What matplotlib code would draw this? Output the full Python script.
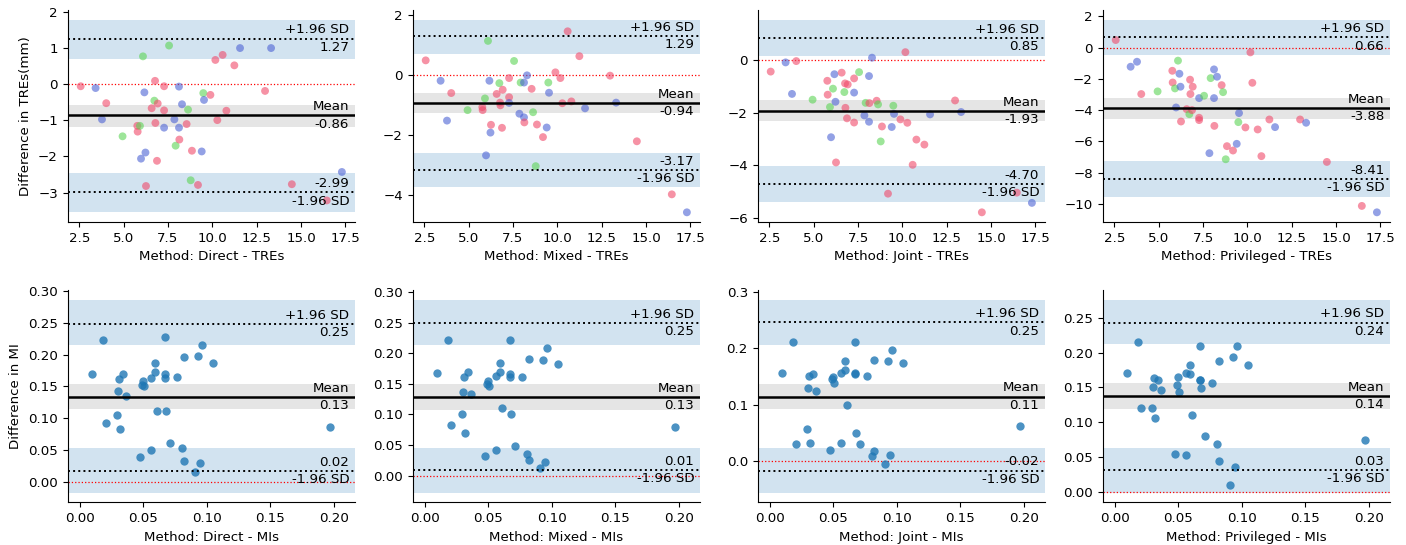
import matplotlib

matplotlib.use("Agg")
import matplotlib.pyplot as plt
import matplotlib.transforms as transforms
from matplotlib.ticker import MultipleLocator

plt.rcParams["font.size"] = 9.6

methods = ["Direct", "Mixed", "Joint", "Privileged"]

# ---- TRE row: x = mean TRE, shared by the four panels ----
tre_x = [2.58, 3.42, 3.78, 4.02, 4.94, 5.77, 5.79, 5.92, 5.98, 6.09, 6.17, 6.23, 6.26,
         6.58, 6.73, 6.77, 6.79, 6.88, 6.92, 7.28, 7.28, 7.28, 7.56, 7.86, 7.93, 8.12,
         8.12, 8.14, 8.29, 8.55, 8.63, 8.78, 8.85, 9.19, 9.40, 9.49, 9.53, 9.89, 10.17,
         10.28, 10.58, 10.79, 11.24, 11.56, 12.97, 13.31, 14.48, 16.45, 17.30]
# 0 = pink, 1 = blue, 2 = green
tre_group = [0, 1, 1, 0, 2, 0, 0, 2, 1, 2, 1, 1, 0,
             0, 2, 0, 0, 0, 0, 0, 0, 1, 2, 1, 2, 1,
             1, 0, 1, 0, 2, 2, 0, 0, 1, 2, 1, 0, 0,
             0, 0, 0, 0, 1, 0, 1, 0, 0, 1]
tre_direct = [-0.05, -0.10, -0.97, -0.52, -1.44, -1.15, -1.31, -1.15, -2.06, 0.78, -0.22, -1.89, -2.82,
              -0.66, -0.45, 0.10, -1.07, -2.12, -0.53, -0.05, -0.72, -1.20, 1.08, -0.97, -1.70, -0.06,
              -1.20, -1.53, -0.55, -1.10, -0.70, -2.66, -1.84, -2.79, -1.86, -0.24, -0.43, -0.29, 0.68,
              -0.99, 0.82, -0.73, 0.53, 1.01, -0.18, 1.01, -2.77, -3.22, -2.43]
tre_mixed = [0.48, -0.20, -1.53, -0.61, -1.18, -1.08, -1.18, -0.79, -2.69, 1.13, -0.20, -1.93, -1.67,
             -0.64, -0.28, -0.93, -1.02, -1.77, -0.50, -0.11, -0.75, -0.94, 0.46, -1.30, -0.26, -0.26,
             -1.42, -1.59, -0.02, -0.47, -1.25, -3.05, -1.66, -2.08, -1.76, -0.26, -0.60, 0.08, -0.11,
             -0.95, 1.45, -0.89, 0.62, -1.12, -0.03, -0.93, -2.22, -3.99, -4.59]
tre_joint = [-0.43, -0.08, -1.28, -0.03, -1.50, -0.78, -1.31, -1.78, -2.93, -1.08, -0.53, -1.58, -3.89,
             -0.47, -1.21, -0.88, -1.81, -2.21, -0.92, -0.69, -2.37, -1.23, -0.45, -2.10, -1.62, -0.60,
             -2.34, -1.63, 0.10, -1.54, -1.68, -3.09, -2.52, -5.08, -2.54, -1.73, -2.04, -2.25, 0.31,
             -2.38, -3.98, -3.02, -3.21, -2.06, -1.53, -1.97, -5.79, -5.04, -5.43]
tre_privileged = [0.49, -1.22, -0.90, -2.97, -2.80, -1.48, -2.23, -2.61, -3.83, -0.83, -1.67, -2.50, -4.73,
                  -3.94, -4.26, -2.05, -2.97, -4.00, -2.50, -4.49, -4.64, -3.23, -3.08, -6.76, -1.95, -1.39,
                  -3.23, -5.01, -1.86, -2.40, -2.85, -7.15, -6.31, -6.59, -6.16, -4.77, -4.19, -5.11, -0.30,
                  -2.25, -5.24, -6.95, -4.60, -5.09, -4.60, -4.81, -7.32, -10.14, -10.55]

tre_bias = [-0.862, -0.940, -1.925, -3.875]
tre_upper = [1.268, 1.290, 0.850, 0.660]
tre_lower = [-2.992, -3.170, -4.700, -8.410]
tre_bias_ci = [(-1.17, -0.56), (-1.29, -0.62), (-2.33, -1.53), (-4.54, -3.23)]
tre_upper_ci = [(0.72, 1.80), (0.70, 1.84), (0.15, 1.55), (-0.49, 1.80)]
tre_lower_ci = [(-3.55, -2.47), (-3.75, -2.62), (-5.41, -4.01), (-9.59, -7.27)]
tre_ystep = [1, 2, 2, 2]

# ---- MI row ----
mi_x = [0.0100, 0.0184, 0.0205, 0.0297, 0.0302, 0.0310, 0.0320, 0.0339, 0.0367, 0.0475, 0.0496,
        0.0490, 0.0509, 0.0559, 0.0559, 0.0596, 0.0596, 0.0611, 0.0669, 0.0675, 0.0675, 0.0677,
        0.0714, 0.0769, 0.0806, 0.0824, 0.0824, 0.0906, 0.0929, 0.0947, 0.0963, 0.1050, 0.1970]
mi_direct = [0.169, 0.223, 0.092, 0.105, 0.142, 0.162, 0.083, 0.169, 0.135, 0.039, 0.159,
             0.152, 0.150, 0.051, 0.163, 0.187, 0.172, 0.112, 0.227, 0.169, 0.163, 0.112,
             0.062, 0.164, 0.054, 0.196, 0.033, 0.015, 0.197, 0.030, 0.215, 0.187, 0.086]
mi_mixed = [0.168, 0.222, 0.083, 0.101, 0.136, 0.162, 0.069, 0.169, 0.133, 0.032, 0.154,
            0.150, 0.147, 0.042, 0.163, 0.184, 0.170, 0.110, 0.222, 0.166, 0.161, 0.100,
            0.049, 0.161, 0.036, 0.191, 0.025, 0.013, 0.189, 0.023, 0.209, 0.183, 0.079]
mi_joint = [0.157, 0.211, 0.031, 0.058, 0.129, 0.151, 0.032, 0.155, 0.125, 0.021, 0.150,
            0.145, 0.139, 0.032, 0.157, 0.178, 0.162, 0.099, 0.211, 0.157, 0.154, 0.051,
            0.031, 0.151, 0.010, 0.179, 0.018, -0.004, 0.178, 0.012, 0.197, 0.174, 0.062]
mi_privileged = [0.171, 0.215, 0.121, 0.121, 0.151, 0.163, 0.106, 0.160, 0.146, 0.054, 0.165,
                 0.154, 0.144, 0.053, 0.171, 0.182, 0.169, 0.110, 0.209, 0.161, 0.160, 0.149,
                 0.081, 0.157, 0.069, 0.188, 0.045, 0.010, 0.194, 0.036, 0.209, 0.182, 0.075]

mi_bias = [0.133, 0.129, 0.1147, 0.1375]
mi_upper = [0.248, 0.249, 0.2456, 0.2430]
mi_lower = [0.0177, 0.009, -0.0162, 0.0316]
mi_bias_ci = [(0.114, 0.1545), (0.108, 0.1505), (0.0918, 0.1376), (0.1188, 0.1561)]
mi_upper_ci = [(0.215, 0.2855), (0.2136, 0.287), (0.2059, 0.2853), (0.2117, 0.2754)]
mi_lower_ci = [(-0.0167, 0.0527), (-0.0277, 0.0446), (-0.0553, 0.0229), (-0.001, 0.0637)]
mi_ystep = [0.05, 0.05, 0.1, 0.05]

group_colors = ["#f0496a", "#4c62d4", "#5cd455"]


def bland_altman(ax, x, diff, colors, alpha, size, bias, upper, lower, bias_ci, upper_ci, lower_ci):
    ax.scatter(x, diff, c=colors, alpha=alpha, s=size, linewidths=0, zorder=3)
    ax.axhline(bias, color="black", linestyle="-", lw=1.8, zorder=4)
    ax.axhline(upper, color="black", linestyle=":", lw=1.4, zorder=4)
    ax.axhline(lower, color="black", linestyle=":", lw=1.4, zorder=4)
    ax.axhline(0, color="red", linestyle=":", lw=0.9, zorder=2)
    ax.axhspan(*bias_ci, facecolor="tab:grey", alpha=0.2, lw=0)
    ax.axhspan(*upper_ci, facecolor="tab:blue", alpha=0.2, lw=0)
    ax.axhspan(*lower_ci, facecolor="tab:blue", alpha=0.2, lw=0)

    off = (upper - lower) / 100.0 * 1.5
    trans = transforms.blended_transform_factory(ax.transAxes, ax.transData)
    kw = dict(ha="right", transform=trans, zorder=5)
    ax.text(0.98, bias + off, "Mean", va="bottom", **kw)
    ax.text(0.98, bias - off, "%.2f" % bias, va="top", **kw)
    ax.text(0.98, upper + off, "+1.96 SD", va="bottom", **kw)
    ax.text(0.98, upper - off, "%.2f" % upper, va="top", **kw)
    ax.text(0.98, lower - off, "-1.96 SD", va="top", **kw)
    ax.text(0.98, lower + off, "%.2f" % lower, va="bottom", **kw)
    ax.spines[["top", "right"]].set_visible(False)


fig, axes = plt.subplots(2, 4, figsize=(14.06, 5.45), dpi=100)
fig.subplots_adjust(left=0.0481, right=0.9886, top=0.9817, bottom=0.0783, wspace=0.2008, hspace=0.3226)

tre_rows = [tre_direct, tre_mixed, tre_joint, tre_privileged]
mi_rows = [mi_direct, mi_mixed, mi_joint, mi_privileged]
tre_colors = [group_colors[g] for g in tre_group]

for i, m in enumerate(methods):
    ax = axes[0, i]
    bland_altman(ax, tre_x, tre_rows[i], tre_colors, 0.6, 32,
                 tre_bias[i], tre_upper[i], tre_lower[i],
                 tre_bias_ci[i], tre_upper_ci[i], tre_lower_ci[i])
    ax.xaxis.set_major_locator(MultipleLocator(2.5))
    ax.yaxis.set_major_locator(MultipleLocator(tre_ystep[i]))
    ax.set_xlabel(f"Method: {m} - TREs")

    ax = axes[1, i]
    bland_altman(ax, mi_x, mi_rows[i], "tab:blue", 0.8, 36,
                 mi_bias[i], mi_upper[i], mi_lower[i],
                 mi_bias_ci[i], mi_upper_ci[i], mi_lower_ci[i])
    ax.set_xlim(-0.0094, 0.2168)
    ax.xaxis.set_major_locator(MultipleLocator(0.05))
    ax.yaxis.set_major_locator(MultipleLocator(mi_ystep[i]))
    ax.set_xlabel(f"Method: {m} - MIs")

axes[0, 0].set_ylabel("Difference in TREs(mm)")
axes[1, 0].set_ylabel("Difference in MI")

fig.savefig("out.png", dpi=100)
